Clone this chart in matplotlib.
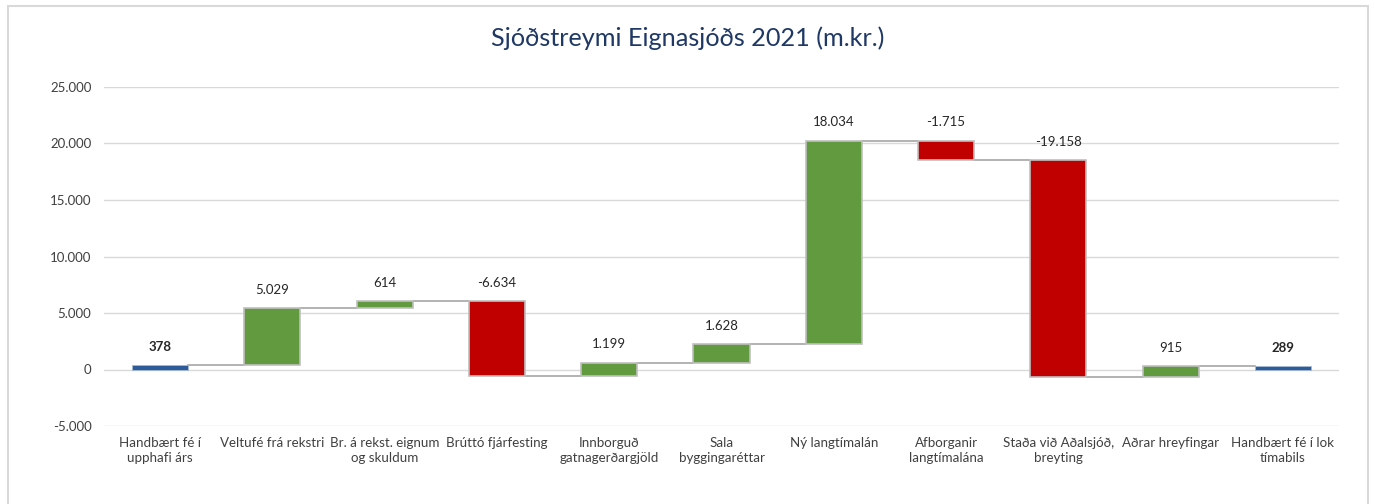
import numpy as np
import matplotlib.pyplot as plt
from matplotlib.patches import Rectangle

plt.rcParams['font.family'] = ['Lato', 'DejaVu Sans']

# cash flow items (m.kr.)
categories = ['Handbært fé í\nupphafi árs', 'Veltufé frá rekstri', 'Br. á rekst. eignum\nog skuldum',
              'Brúttó fjárfesting', 'Innborguð\ngatnagerðargjöld', 'Sala\nbyggingaréttar',
              'Ný langtímalán', 'Afborganir\nlangtímalána', 'Staða við Aðalsjóð,\nbreyting',
              'Aðrar hreyfingar', 'Handbært fé í lok\ntímabils']
values = [378, 5029, 614, -6634, 1199, 1628, 18034, -1715, -19158, 915, 289]
is_total = [True, False, False, False, False, False, False, False, False, False, True]

GREEN = '#629B3F'
RED = '#C00000'
BLUE = '#2E5C99'
EDGE = '#BFBFBF'


def fmt(v):
    return f'{v:,.0f}'.replace(',', '.')


fig = plt.figure(figsize=(13.75, 5.04), dpi=100)
ax = fig.add_axes([104 / 1375, 1 - 426 / 504, 1235 / 1375, (426 - 87) / 504])

# outer frame
fig.patches.append(Rectangle((8 / 1375, -0.05), 1360 / 1375, 0.05 + 1 - 6 / 504,
                             transform=fig.transFigure, fill=False, edgecolor='#D9D9D9', lw=1.5))

x = np.arange(len(values))
running = 0
prev_end = None
for i, (v, tot) in enumerate(zip(values, is_total)):
    if tot:
        start, end = 0, v
        color = BLUE
        edge = '#A6B8D4'
        lw = 0.6
    else:
        start, end = running, running + v
        color = GREEN if v >= 0 else RED
        edge = EDGE
        lw = 1.2
    bottom = min(start, end)
    h = abs(end - start)
    ax.bar(i, h, bottom=bottom, width=0.5, color=color, edgecolor=edge, lw=lw, zorder=3)
    # connector from previous bar
    if prev_end is not None:
        ax.plot([i - 1 + 0.25, i - 0.25], [prev_end, prev_end], color='#A6A6A6', lw=1.2, zorder=2)
    top = max(start, end)
    ax.annotate(fmt(v), (i, top), xytext=(0, 9), textcoords='offset points',
                ha='center', va='bottom', fontsize=9.5,
                fontweight='bold' if tot else 'normal', color='#262626')
    running = end
    prev_end = end

ax.set_ylim(-5000, 25000)
ax.set_xlim(-0.5, len(values) - 0.5)
ax.set_yticks(np.arange(-5000, 25001, 5000))
ax.set_yticklabels([fmt(t) for t in np.arange(-5000, 25001, 5000)], fontsize=9.5, color='#404040')
ax.set_xticks(x)
ax.set_xticklabels(categories, fontsize=9.6, color='#404040', linespacing=1.25)
ax.tick_params(length=0)
ax.tick_params(axis='y', pad=9)
ax.tick_params(axis='x', pad=8)
ax.grid(axis='y', color='#D9D9D9', lw=1, zorder=0)
for s in ax.spines.values():
    s.set_visible(False)

fig.text(0.5, 1 - 38 / 504, 'Sjóðstreymi Eignasjóðs 2021 (m.kr.)', ha='center', va='center',
         fontsize=18.2, color='#1F3864')

fig.savefig('out.png', dpi=100)
